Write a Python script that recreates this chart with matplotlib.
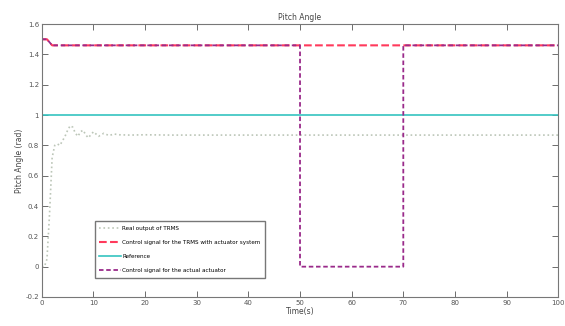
import matplotlib.pyplot as plt
import numpy as np

# real pitch output
t_out = [0, 0.5, 1.0, 1.5, 2.0, 2.5, 3.0, 3.5, 4.0, 4.5, 5.0, 5.5, 6.0, 6.5, 7.0,
         7.5, 8.0, 8.5, 9.0, 9.5, 10, 11, 12, 13, 14, 15, 17, 20, 25, 30, 40,
         50, 60, 70, 80, 90, 100]
y_out = [0, 0.0, 0.05, 0.35, 0.72, 0.80, 0.81, 0.80, 0.83, 0.86, 0.90, 0.93, 0.92,
         0.88, 0.86, 0.89, 0.90, 0.87, 0.85, 0.87, 0.89, 0.86, 0.88, 0.865, 0.875,
         0.87, 0.868, 0.87, 0.868, 0.868, 0.868, 0.868, 0.868, 0.868, 0.868,
         0.868, 0.868]

# control signal with actuator system
t_ctrl = [0, 1, 2, 100]
y_ctrl = [1.50, 1.50, 1.46, 1.46]

# control signal of the actual actuator (drops to zero between 50 and 70 s)
t_act = [0, 1, 2, 50, 50, 70, 70, 100]
y_act = [1.50, 1.50, 1.46, 1.46, 0, 0, 1.46, 1.46]

t_ref = [0, 100]
y_ref = [1.0, 1.0]

plt.rcParams['font.size'] = 5

fig = plt.figure(figsize=(5.65, 3.26), dpi=100)
ax = fig.add_axes([0.074, 0.089, 0.914, 0.837])

ax.plot(t_out, y_out, ':', color='#bcc6b8', lw=1.2, label='Real output of TRMS')
ax.plot(t_ctrl, y_ctrl, '--', color='#ff3a5c', lw=1.5,
        label='Control signal for the TRMS with actuator system')
ax.plot(t_ref, y_ref, '-', color='#35c4c0', lw=1.2, label='Reference')
ax.plot(t_act, y_act, '--', color='#9a2a8a', lw=1.3, dashes=(2.5, 1.5),
        label='Control signal for the actual actuator')

ax.set_xlim(0, 100)
ax.set_ylim(-0.2, 1.6)
ax.set_xticks(np.arange(0, 101, 10))
ax.set_yticks(np.arange(-0.2, 1.61, 0.2))
ax.set_yticklabels(['-0.2', '0', '0.2', '0.4', '0.6', '0.8', '1', '1.2', '1.4', '1.6'])
ax.tick_params(direction='in', top=True, right=True, length=4, width=0.6,
               labelsize=5, colors='#555555', pad=2)
for s in ax.spines.values():
    s.set_color('#777777')
    s.set_linewidth(0.8)

ax.set_title('Pitch Angle', fontsize=5.5, color='#444444', pad=3)
ax.set_xlabel('Time(s)', fontsize=5.5, color='#444444', labelpad=1)
ax.set_ylabel('Pitch Angle (rad)', fontsize=5.5, color='#444444', labelpad=1)

ax.legend(loc='lower left', bbox_to_anchor=(0.097, 0.06), fontsize=4.1,
          frameon=True, fancybox=False, edgecolor='#555555', handlelength=3.8,
          borderpad=0.8, labelspacing=1.6, handletextpad=0.2)

plt.savefig('out.png', dpi=100)
